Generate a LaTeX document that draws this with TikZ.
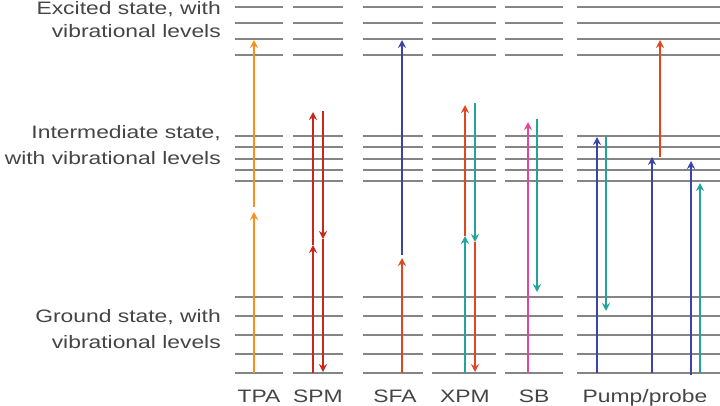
\documentclass[tikz,border=0pt]{standalone}
\usepackage{fontspec}
\usepackage{xcolor}
\usepackage{tikz}
\usetikzlibrary{arrows.meta}
\newfontfamily\lblfont[FakeStretch=1.27]{Liberation Sans}
\definecolor{levgray}{HTML}{858585}
\definecolor{txtgray}{HTML}{454545}
\definecolor{tpaorange}{HTML}{F7901E}
\definecolor{spmred}{HTML}{C9261C}
\definecolor{fred}{HTML}{E2461E}
\definecolor{tealc}{HTML}{22A39B}
\definecolor{bluec}{HTML}{3A45A6}
\definecolor{magc}{HTML}{E0489F}
\tikzset{lev/.style={levgray,line width=2.4pt},
  lbl/.style={inner sep=0,anchor=base east,txtgray,font=\lblfont\fontsize{18}{26}\selectfont},
  tag/.style={inner sep=0,anchor=base,txtgray,font=\lblfont\fontsize{18}{26}\selectfont},
  beam/.style={->,line width=2.8pt}}

\begin{document}
\begin{tikzpicture}[x=1pt,y=-1pt,>={Stealth[length=8pt,width=8pt]}]
    \useasboundingbox (0,0) rectangle (720,405);

    % vibrational levels
    \foreach \xa/\xb in {235/283,293/343,363/423,432/496,505/563,577/720}{
      \foreach \y in {7,23,39,55,136,147,159,170,181,297,316,335,354,373}
        \draw[lev] (\xa,\y) -- (\xb,\y);
    }

    \node[lbl] (exc1) at (221,14) {Excited state, with};
    \node[lbl] (exc2) at (221,37) {vibrational levels};
    \node[lbl] (int1) at (221,138) {Intermediate state,};
    \node[lbl] (int2) at (221,164) {with vibrational levels};
    \node[lbl] (gnd1) at (221,322) {Ground state, with};
    \node[lbl] (gnd2) at (221,348) {vibrational levels};

    \node[tag] (tpa) at (259,402) {TPA};
    \node[tag] (spm) at (318,402) {SPM};
    \node[tag] (sfa) at (395,402) {SFA};
    \node[tag] (xpm) at (465,402) {XPM};
    \node[tag] (sb) at (534,402) {SB};
    \node[tag] (pp) at (645,402) {Pump/probe};

    % TPA
    \coordinate (tpa0) at (254,373);
    \coordinate (tpa1) at (254,212);
    \coordinate (tpa2) at (254,207);
    \coordinate (tpa3) at (254,40);
    \draw[beam,tpaorange] (tpa0) -- (tpa1);
    \draw[beam,tpaorange] (tpa2) -- (tpa3);

    % SPM
    \coordinate (spmu0) at (313,373);
    \coordinate (spmu1) at (313,245);
    \coordinate (spmu2) at (313,112);
    \coordinate (spmd0) at (323,111);
    \coordinate (spmd1) at (323,239);
    \coordinate (spmd2) at (323,372);
    \draw[beam,spmred] (spmu0) -- (spmu1);
    \draw[beam,spmred] (spmu1) -- (spmu2);
    \draw[beam,spmred] (spmd0) -- (spmd1);
    \draw[beam,spmred] (spmd1) -- (spmd2);

    % SFA
    \coordinate (sfa0) at (402,373);
    \coordinate (sfa1) at (402,258);
    \coordinate (sfa2) at (402,255);
    \coordinate (sfa3) at (402,40);
    \draw[beam,fred] (sfa0) -- (sfa1);
    \draw[beam,bluec] (sfa2) -- (sfa3);

    % XPM
    \coordinate (xpmu0) at (465,373);
    \coordinate (xpmu1) at (465,236);
    \coordinate (xpmu2) at (465,105);
    \coordinate (xpmd0) at (475,103);
    \coordinate (xpmd1) at (475,242);
    \coordinate (xpmd2) at (475,372);
    \draw[beam,tealc] (xpmu0) -- (xpmu1);
    \draw[beam,fred] (xpmu1) -- (xpmu2);
    \draw[beam,tealc] (xpmd0) -- (xpmd1);
    \draw[beam,fred] (xpmd1) -- (xpmd2);

    % SB
    \coordinate (sbu0) at (528,373);
    \coordinate (sbu1) at (528,122);
    \coordinate (sbd0) at (537,119);
    \coordinate (sbd1) at (537,292);
    \draw[beam,magc] (sbu0) -- (sbu1);
    \draw[beam,tealc] (sbd0) -- (sbd1);

    % Pump/probe
    \coordinate (ppa0) at (597,373);
    \coordinate (ppa1) at (597,137);
    \coordinate (ppb0) at (606,136);
    \coordinate (ppb1) at (606,311);
    \coordinate (ppc0) at (652,373);
    \coordinate (ppc1) at (652,157);
    \coordinate (ppd0) at (660,157);
    \coordinate (ppd1) at (660,40);
    \coordinate (ppe0) at (691,375);
    \coordinate (ppe1) at (691,161);
    \coordinate (ppf0) at (700,373);
    \coordinate (ppf1) at (700,183);
    \draw[beam,bluec] (ppa0) -- (ppa1);
    \draw[beam,tealc] (ppb0) -- (ppb1);
    \draw[beam,bluec] (ppc0) -- (ppc1);
    \draw[beam,fred] (ppd0) -- (ppd1);
    \draw[beam,bluec] (ppe0) -- (ppe1);
    \draw[beam,tealc] (ppf0) -- (ppf1);
\end{tikzpicture}
\end{document}
